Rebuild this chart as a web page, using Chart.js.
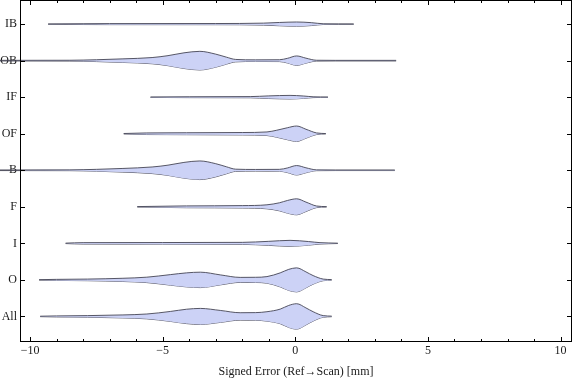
<!DOCTYPE html>
<html><head><meta charset="utf-8">
<script src="https://cdn.jsdelivr.net/npm/chart.js@4.4.1/dist/chart.umd.min.js"></script>
<style>html,body{margin:0;padding:0;background:#fff;}canvas{display:block}</style>
</head><body><canvas id="c" width="576" height="381"></canvas>
<script>
// Categories, top to bottom
const categories = ['IB', 'OB', 'IF', 'OF', 'B', 'F', 'I', 'O', 'All'];
const xTickValues = [-10, -5, 0, 5, 10];
const xTitle = 'Signed Error (Ref\u2192Scan) [mm]';

// Violin outlines: sample positions (mm) and half-widths (category units)
const IB_x = [-9.32, -8.0, -7.0, -3.0, -1.2, -0.6, 0.05, 0.6, 1.05, 2.2];
const IB_w = [0.005, 0.011, 0.014, 0.016, 0.027, 0.045, 0.058, 0.040, 0.010, 0.004];

const OB_x = [-11.3, -8.5, -7.5, -6.5, -5.4, -4.8, -4.2, -3.6, -3.0, -2.6, -2.25, -1.5, -0.6, -0.3, 0.05, 0.4, 0.8, 1.5, 3.8];
const OB_w = [0.008, 0.011, 0.025, 0.049, 0.085, 0.137, 0.214, 0.255, 0.178, 0.096, 0.033, 0.022, 0.025, 0.063, 0.129, 0.068, 0.011, 0.008, 0.008];

const IF_x = [-5.46, -4.0, -1.7, -1.0, -0.2, 0.3, 0.67, 1.23];
const IF_w = [0.006, 0.012, 0.016, 0.036, 0.049, 0.033, 0.011, 0.005];

const OF_x = [-6.47, -5.6, -4.1, -2.0, -1.07, -0.7, -0.3, 0.05, 0.4, 0.8, 1.15];
const OF_w = [0.006, 0.022, 0.027, 0.033, 0.049, 0.096, 0.164, 0.211, 0.123, 0.022, 0.005];

const B_x = [-11.3, -8.5, -7.5, -6.5, -5.4, -4.8, -4.2, -3.6, -3.0, -2.6, -2.25, -1.5, -0.6, -0.3, 0.05, 0.4, 0.8, 1.5, 3.75];
const B_w = [0.008, 0.011, 0.025, 0.050, 0.090, 0.140, 0.215, 0.255, 0.180, 0.096, 0.030, 0.022, 0.025, 0.063, 0.129, 0.068, 0.011, 0.008, 0.008];

const F_x = [-5.96, -4.1, -2.0, -1.07, -0.6, -0.3, 0.05, 0.4, 0.8, 1.18];
const F_w = [0.006, 0.025, 0.033, 0.055, 0.110, 0.173, 0.219, 0.129, 0.022, 0.005];

const I_x = [-8.66, -8.0, -5.0, -2.0, -1.0, -0.2, 0.5, 0.93, 1.6];
const I_w = [0.006, 0.019, 0.022, 0.027, 0.055, 0.082, 0.049, 0.019, 0.005];

const O_x = [-9.66, -9.0, -7.84, -6.5, -5.6, -4.7, -4.1, -3.58, -2.83, -2.08, -1.5, -1.07, -0.57, -0.25, 0.05, 0.4, 0.67, 1.05, 1.37];
const O_w = [0.006, 0.014, 0.022, 0.044, 0.074, 0.145, 0.192, 0.211, 0.137, 0.068, 0.071, 0.090, 0.192, 0.288, 0.329, 0.219, 0.118, 0.022, 0.008];

const All_x = [-9.62, -9.0, -7.84, -6.5, -5.6, -4.7, -4.1, -3.58, -2.83, -2.08, -1.5, -1.07, -0.57, -0.25, 0.05, 0.4, 0.67, 1.05, 1.37];
const All_w = [0.006, 0.014, 0.022, 0.041, 0.066, 0.137, 0.197, 0.219, 0.164, 0.101, 0.104, 0.129, 0.200, 0.301, 0.348, 0.233, 0.129, 0.022, 0.008];

const xArrays = [IB_x, OB_x, IF_x, OF_x, B_x, F_x, I_x, O_x, All_x];
const wArrays = [IB_w, OB_w, IF_w, OF_w, B_w, F_w, I_w, O_w, All_w];

const FILL = 'rgb(204,210,246)';
const LINE = 'rgba(70,70,85,0.9)';
const TEXT = '#1a1a1a';
const FONT = "'Liberation Serif', 'Times New Roman', serif";

const datasets = [];
categories.forEach((name, i) => {
  const c = categories.length - i;
  const xs = xArrays[i], ws = wArrays[i];
  const common = {borderColor: LINE, borderWidth: 1, pointRadius: 0, cubicInterpolationMode: 'monotone', clip: false};
  datasets.push(Object.assign({label: name + ' upper', data: xs.map((x, k) => ({x: x, y: c + ws[k]})), fill: '+1', backgroundColor: FILL}, common));
  datasets.push(Object.assign({label: name + ' lower', data: xs.map((x, k) => ({x: x, y: c - ws[k]})), fill: false}, common));
});

const framePlugin = {
  id: 'frame',
  afterDraw(chart) {
    const {ctx, chartArea: a, scales} = chart;
    const L = Math.round(a.left) + 0.5, R = Math.round(a.right) - 0.5;
    const T = Math.round(a.top) + 0.5, Bt = Math.round(a.bottom) - 0.5;
    ctx.save();
    ctx.strokeStyle = '#000';
    ctx.lineWidth = 1;
    ctx.beginPath();
    for (let v = -10; v <= 10; v++) {
      const px = Math.round(scales.x.getPixelForValue(v)) + 0.5;
      const len = (v % 5 === 0) ? 4.5 : 2.5;
      ctx.moveTo(px, Bt); ctx.lineTo(px, Bt - len);
      ctx.moveTo(px, T); ctx.lineTo(px, T + len);
    }
    categories.forEach((_, i) => {
      const py = Math.round(scales.y.getPixelForValue(categories.length - i)) + 0.5;
      ctx.moveTo(L, py); ctx.lineTo(L + 4.5, py);
      ctx.moveTo(R, py); ctx.lineTo(R - 4.5, py);
    });
    ctx.stroke();
    ctx.strokeRect(L, T, R - L, Bt - T);
    ctx.restore();
  }
};

new Chart(document.getElementById('c'), {
  type: 'line',
  data: {datasets: datasets},
  plugins: [framePlugin],
  options: {
    responsive: false,
    devicePixelRatio: 1,
    animation: false,
    layout: {padding: {top: 0, right: 4, bottom: 0, left: 0}},
    plugins: {legend: {display: false}, tooltip: {enabled: false}},
    scales: {
      x: {
        type: 'linear', min: -10.38, max: 10.43,
        afterBuildTicks: s => { s.ticks = xTickValues.map(v => ({value: v})); },
        afterFit: s => { s.height = 39; s.paddingLeft = 0; s.paddingRight = 0; },
        ticks: {
          autoSkip: false, maxRotation: 0, padding: 2, color: TEXT,
          font: {family: FONT, size: 12},
          callback: v => v < 0 ? '\u2212' + Math.abs(v) : String(v)
        },
        grid: {display: false, drawTicks: false},
        border: {display: false},
        title: {display: true, text: xTitle, color: TEXT, font: {family: FONT, size: 12}, padding: {top: 0, bottom: 2}}
      },
      y: {
        type: 'linear', min: 0.3, max: 9.66,
        afterBuildTicks: s => { s.ticks = categories.map((_, i) => ({value: categories.length - i})); },
        afterFit: s => { s.width = 20; s.paddingTop = 0; s.paddingBottom = 0; },
        ticks: {
          autoSkip: false, padding: 3, color: TEXT,
          font: {family: FONT, size: 12},
          callback: v => categories[categories.length - v]
        },
        grid: {display: false, drawTicks: false},
        border: {display: false}
      }
    }
  }
});
</script>
</body></html>
